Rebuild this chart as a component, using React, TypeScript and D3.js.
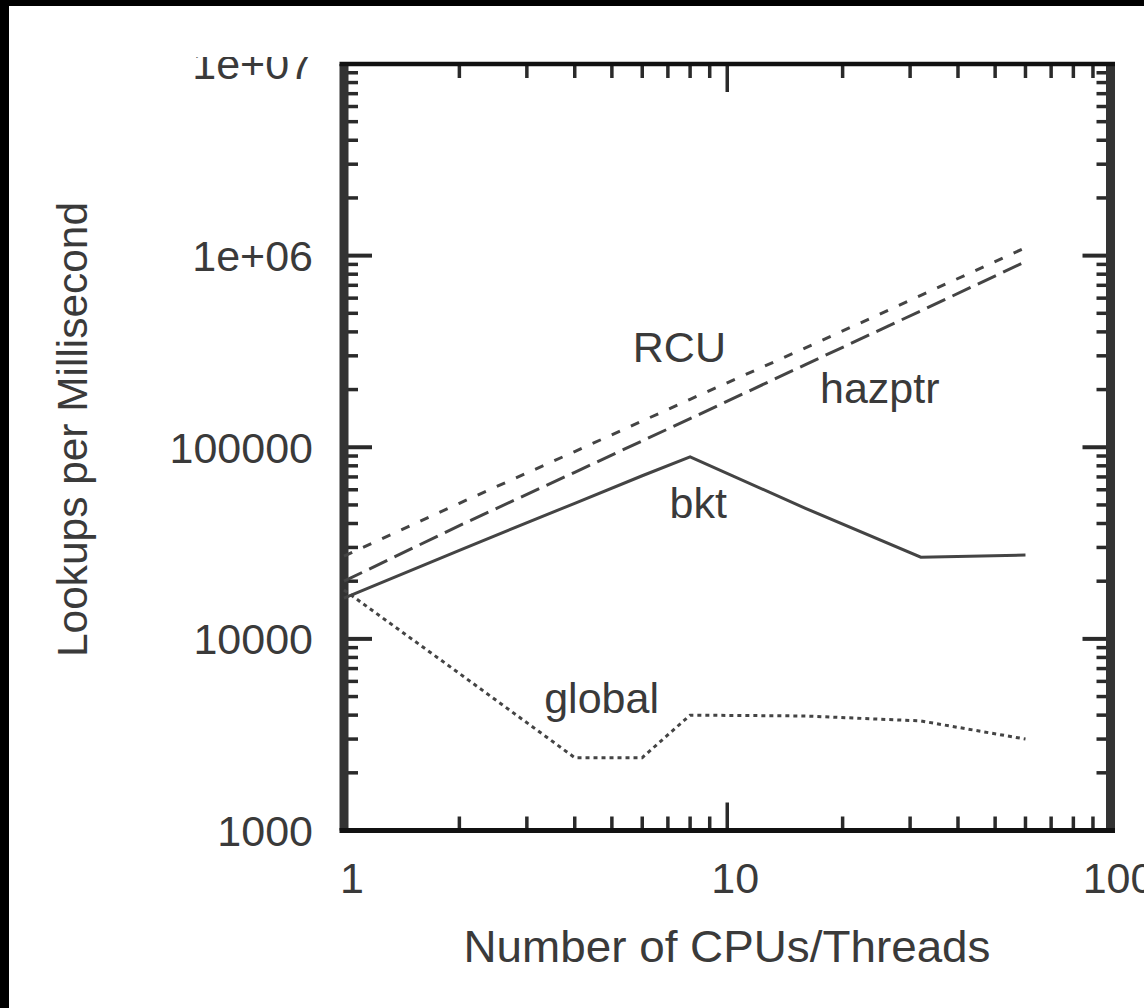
import React from 'react';
import * as d3 from 'd3';

// number of CPUs/threads on the x axis
const threads = [1, 2, 4, 6, 8, 16, 32, 60];

// lookups per millisecond for each scheme
const rcuLookups = [27000, 51000, 95000, 137000, 178000, 330000, 620000, 1100000];
const hazptrLookups = [20000, 39000, 74000, 108000, 141000, 270000, 515000, 930000];
const bktLookups = [16300, 29000, 51000, 71000, 89000, 48000, 26700, 27400];
const globalLookups = [18000, 6600, 2400, 2400, 4000, 3960, 3730, 3000];

const xTicks = [1, 10, 100];
const yTicks = [1000, 10000, 100000, 1e6, 1e7];
const yTickLabels = ['1000', '10000', '100000', '1e+06', '1e+07'];

const seriesNames = ['RCU', 'hazptr', 'bkt', 'global'];
// label anchors in data space (threads, lookups)
const labelThreads = [7.5, 25, 8.4, 4.7];
const labelLookups = [280000, 170000, 42800, 4100];

const W = 1144;
const H = 1008;
const FONT = '"Liberation Sans", Arial, sans-serif';

const App = () => {
  const x = d3.scaleLog().domain([1, 100]).range([344, 1110.5]);
  const y = d3.scaleLog().domain([1000, 1e7]).range([830.5, 64]);

  const left = x(1);
  const right = x(100);
  const top = y(1e7);
  const bottom = y(1000);

  // minor ticks 2..9 of every decade
  const xMinor: number[] = [];
  for (const base of [1, 10]) for (let k = 2; k <= 9; k++) xMinor.push(k * base);
  const yMinor: number[] = [];
  for (const base of [1000, 10000, 100000, 1e6]) for (let k = 2; k <= 9; k++) yMinor.push(k * base);

  const line = d3.line<[number, number]>()
    .x(d => x(d[0]))
    .y(d => y(d[1]));

  const series = [
    { values: rcuLookups, dash: '9,12' },
    { values: hazptrLookups, dash: '20,8' },
    { values: bktLookups, dash: null },
    { values: globalLookups, dash: '4,4' },
  ];

  const tickColor = '#2a2a2a';
  const textColor = '#3a3a3a';

  return (
    <svg
      width={W}
      height={H}
      style={{ position: 'absolute', left: 0, top: 0, display: 'block', background: '#fff' }}
      fontFamily={FONT}
    >
      <defs>
        <clipPath id="topClip">
          <rect x={0} y={57} width={W} height={H} />
        </clipPath>
      </defs>
      <rect x={0} y={0} width={W} height={H} fill="#fff" />

      {/* outer black frame */}
      <rect x={0} y={0} width={W} height={6} fill="#000" />
      <rect x={0} y={0} width={9} height={H} fill="#000" />

      {/* y ticks, both sides */}
      {yMinor.map(v => (
        <g key={'ym' + v}>
          <line x1={left} x2={left + 14} y1={y(v)} y2={y(v)} stroke={tickColor} strokeWidth={3.5} />
          <line x1={right - 14} x2={right} y1={y(v)} y2={y(v)} stroke={tickColor} strokeWidth={3.5} />
        </g>
      ))}
      {yTicks.map(v => (
        <g key={'yM' + v}>
          <line x1={left} x2={left + 28} y1={y(v)} y2={y(v)} stroke={tickColor} strokeWidth={4} />
          <line x1={right - 28} x2={right} y1={y(v)} y2={y(v)} stroke={tickColor} strokeWidth={4} />
        </g>
      ))}

      {/* x ticks, top and bottom */}
      {xMinor.map(v => (
        <g key={'xm' + v}>
          <line x1={x(v)} x2={x(v)} y1={bottom} y2={bottom - 14} stroke={tickColor} strokeWidth={3.5} />
          <line x1={x(v)} x2={x(v)} y1={top} y2={top + 14} stroke={tickColor} strokeWidth={3.5} />
        </g>
      ))}
      {xTicks.map(v => (
        <g key={'xM' + v}>
          <line x1={x(v)} x2={x(v)} y1={bottom} y2={bottom - 28} stroke={tickColor} strokeWidth={3.5} />
          <line x1={x(v)} x2={x(v)} y1={top} y2={top + 28} stroke={tickColor} strokeWidth={3.5} />
        </g>
      ))}

      {/* plot border */}
      <line x1={left} x2={left} y1={top} y2={bottom} stroke="#333" strokeWidth={9} />
      <line x1={right} x2={right} y1={top} y2={bottom} stroke="#333" strokeWidth={9} />
      <line x1={left - 4.5} x2={right + 4.5} y1={top} y2={top} stroke="#111" strokeWidth={4.5} />
      <line x1={left - 4.5} x2={right + 4.5} y1={bottom} y2={bottom} stroke="#111" strokeWidth={5} />

      {/* series lines */}
      {series.map((s, i) => (
        <path
          key={'s' + i}
          d={line(threads.map((t, j) => [t, s.values[j]] as [number, number])) || ''}
          fill="none"
          stroke="#444"
          strokeWidth={3}
          strokeDasharray={s.dash || undefined}
        />
      ))}

      {/* series labels */}
      {seriesNames.map((name, i) => (
        <text
          key={'l' + name}
          x={x(labelThreads[i])}
          y={y(labelLookups[i])}
          textAnchor="middle"
          fontSize={43}
          fill={textColor}
        >
          {name}
        </text>
      ))}

      {/* y tick labels */}
      {yTicks.map((v, i) => (
        <text
          key={'yl' + v}
          x={313}
          y={y(v)}
          dy="0.36em"
          textAnchor="end"
          fontSize={43}
          fill={textColor}
          clipPath={v === 1e7 ? 'url(#topClip)' : undefined}
        >
          {yTickLabels[i]}
        </text>
      ))}

      {/* x tick labels */}
      {xTicks.map(v => (
        <text
          key={'xl' + v}
          x={x(v) + 8}
          y={893}
          textAnchor="middle"
          fontSize={43}
          fill={textColor}
        >
          {String(v)}
        </text>
      ))}

      {/* axis titles */}
      <text
        x={727}
        y={962}
        textAnchor="middle"
        fontSize={44}
        fill={textColor}
        textLength={527}
        lengthAdjust="spacingAndGlyphs"
      >
        Number of CPUs/Threads
      </text>
      <text
        transform={`translate(87,${429.5}) rotate(-90)`}
        textAnchor="middle"
        fontSize={43}
        fill={textColor}
        textLength={455}
        lengthAdjust="spacingAndGlyphs"
      >
        Lookups per Millisecond
      </text>
    </svg>
  );
};

export default App;
